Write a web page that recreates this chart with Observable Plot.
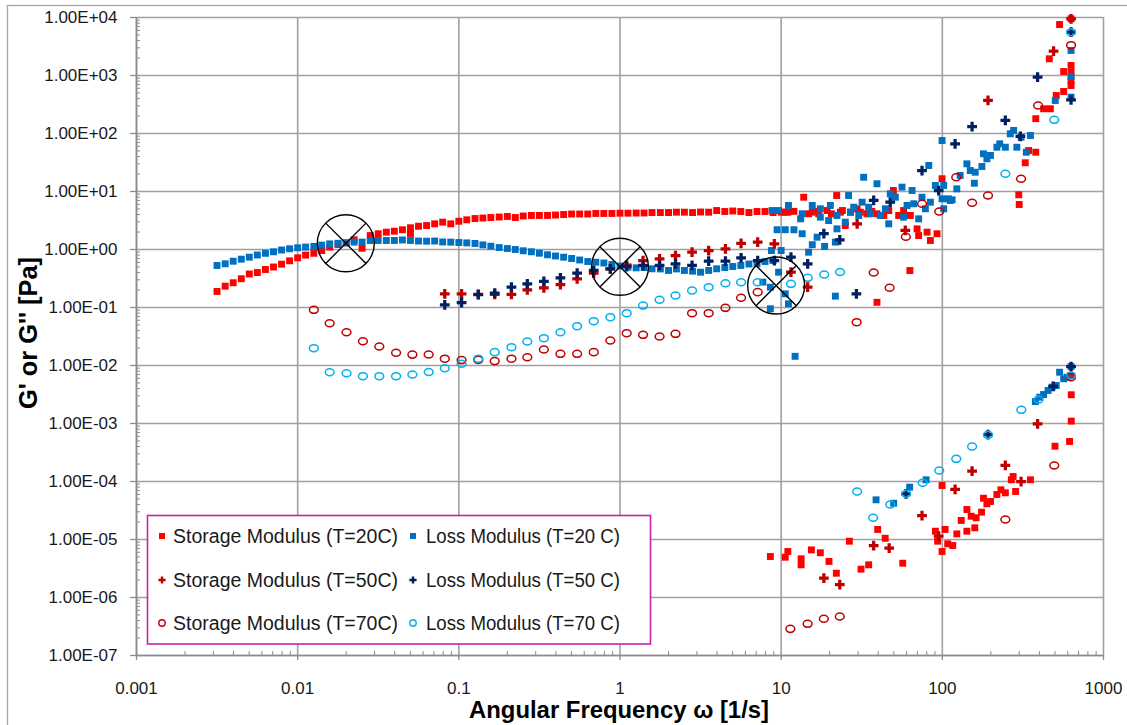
<!DOCTYPE html>
<html>
<head>
<meta charset="utf-8">
<script src="https://cdn.jsdelivr.net/npm/d3@7"></script>
<script src="https://cdn.jsdelivr.net/npm/@observablehq/plot@0.6"></script>
<style>
  html, body { margin: 0; padding: 0; background: #fff; }
  #chart svg { display: block; }
</style>
</head>
<body>
<div id="chart"></div>
<script>
// ---- Frequency grids (rad/s) ----
const freq20 = [
  0.00316, 0.00355, 0.00398, 0.00447, 0.00501, 0.00562, 0.00631, 0.00708, 0.00794, 0.00891,
  0.0100, 0.0112, 0.0126, 0.0141, 0.0158, 0.0178, 0.0200, 0.0224, 0.0251, 0.0282,
  0.0316, 0.0355, 0.0398, 0.0447, 0.0501, 0.0562, 0.0631, 0.0708, 0.0794, 0.0891,
  0.100, 0.112, 0.126, 0.141, 0.158, 0.178, 0.200, 0.224, 0.251, 0.282,
  0.316, 0.355, 0.398, 0.447, 0.501, 0.562, 0.631, 0.708, 0.794, 0.891,
  1.00, 1.12, 1.26, 1.41, 1.58, 1.78, 2.00, 2.24, 2.51, 2.82,
  3.16, 3.55, 3.98, 4.47, 5.01, 5.62, 6.31, 7.08, 7.94, 8.91,
  10.0
];
const freq50 = [
  0.0818, 0.104, 0.132, 0.167, 0.212, 0.266, 0.337, 0.427, 0.542, 0.687,
  0.871, 1.10, 1.39, 1.76, 2.21, 2.80, 3.55, 4.51, 5.64, 7.15,
  9.07, 11.5, 14.6
];
const freq70 = [
  0.0126, 0.0158, 0.0201, 0.0254, 0.0321, 0.0408, 0.0515, 0.0650, 0.0818, 0.104,
  0.132, 0.167, 0.212, 0.266, 0.337, 0.427, 0.542, 0.687, 0.871, 1.10,
  1.39, 1.76, 2.21, 2.80, 3.55, 4.51, 5.64, 7.15
];

// ---- T = 20 C (Pa) ----
const storage20 = [
  0.189, 0.233, 0.267, 0.313, 0.378, 0.401, 0.452, 0.499, 0.558, 0.638,
  0.719, 0.80, 0.86, 0.96, 1.10, 1.22, 1.30, 1.47, 1.05, 1.74,
  1.87, 1.99, 2.07, 2.19, 2.37, 2.52, 2.59, 2.77, 2.96, 2.77,
  3.07, 3.25, 3.42, 3.49, 3.56, 3.63, 3.71, 3.56, 3.78, 3.86,
  3.86, 3.86, 3.93, 4.01, 4.09, 4.09, 4.09, 4.18, 4.18, 4.18,
  4.23, 4.23, 4.26, 4.26, 4.34, 4.34, 4.34, 4.40, 4.40, 4.34,
  4.43, 4.40, 4.70, 4.52, 4.61, 4.52, 4.34, 4.52, 4.52, 4.34,
  4.40
];
const loss20 = [
  0.530, 0.567, 0.628, 0.681, 0.737, 0.804, 0.860, 0.913, 0.980, 1.03,
  1.07, 1.10, 1.13, 1.19, 1.25, 1.28, 1.30, 1.34, 1.34, 1.43,
  1.43, 1.43, 1.43, 1.46, 1.43, 1.40, 1.39, 1.40, 1.35, 1.34,
  1.32, 1.30, 1.27, 1.20, 1.14, 1.08, 1.04, 1.00, 0.95, 0.913,
  0.863, 0.811, 0.773, 0.737, 0.700, 0.659, 0.621, 0.604, 0.585, 0.551,
  0.519, 0.495, 0.483, 0.489, 0.465, 0.462, 0.435, 0.462, 0.435, 0.423,
  0.406, 0.435, 0.465, 0.489, 0.509, 0.530, 0.562, 0.567, 0.621, 0.646,
  0.96
];
// high-frequency and off-trend readings [frequency, modulus]
const storage20Extra = [
  [0.0501, 1.89], [10.6, 4.40], [11.0, 4.40], [12.0, 4.55], [13.8, 7.97], [14.8, 4.13],
  [15.6, 4.40], [16.4, 4.55], [17.1, 4.13], [19.3, 4.70], [20.5, 4.13], [22.1, 8.53],
  [23.3, 4.40], [24.0, 4.70], [25.0, 2.59], [26.9, 4.40], [29.6, 5.03], [31.0, 4.40],
  [34.1, 4.13], [36.5, 4.55], [39.3, 4.13], [43.3, 3.86], [46.5, 4.70], [49.7, 10.4],
  [53.6, 3.86], [57.5, 4.70], [63.3, 3.86], [69.7, 2.27], [71.3, 1.74], [80.4, 1.99],
  [84.3, 1.43], [92.7, 1.87], [99.6, 16.6], [62.9, 0.434], [39.3, 0.123],
  [298, 8.77], [300, 5.97], [327, 31.3], [343, 50.9], [380, 47.6], [380, 180],
  [425, 267], [468, 267], [509, 452], [566, 530], [566, 1170], [629, 672], [629, 820],
  [629, 1140], [629, 1490], [461, 1940], [534, 7570], [629, 9500],
  [8.57, 5.09e-6], [10.6, 4.95e-6], [11.0, 6.21e-6], [13.3, 4.65e-6], [13.3, 3.66e-6],
  [15.4, 6.62e-6], [17.5, 5.90e-6], [19.8, 4.18e-6], [22.0, 2.62e-6], [26.5, 9.35e-6],
  [31.3, 3.08e-6], [34.9, 3.66e-6], [39.7, 1.49e-5], [44.2, 1.05e-5], [56.8, 3.90e-6],
  [90.5, 1.39e-5], [99.6, 8.53e-5], [93.5, 9.35e-6], [99.6, 6.21e-6], [104, 1.49e-5],
  [108, 8.43e-6], [116, 7.88e-6], [123, 1.25e-5], [131, 2.13e-5], [142, 3.29e-5],
  [142, 1.39e-5], [151, 2.52e-5], [159, 1.59e-5], [162, 2.37e-5], [175, 2.96e-5],
  [180, 5.15e-5], [189, 4.13e-5], [199, 4.52e-5], [218, 5.97e-5], [231, 7.19e-5],
  [246, 6.38e-5], [268, 1.07e-4], [275, 1.22e-4], [285, 6.73e-5], [352, 1.07e-4],
  [500, 4.06e-4], [616, 4.90e-4], [631, 1.10e-3], [631, 3.13e-3], [625, 6.73e-3]
];
const loss20Extra = [
  [8.79, 4.70], [9.44, 2.19], [10.6, 2.19], [12.0, 2.19], [13.5, 1.87], [8.70, 0.96],
  [7.70, 0.274], [8.57, 0.095], [9.64, 0.406], [8.57, 0.224], [10.6, 0.172], [11.1, 0.116],
  [12.2, 0.0144], [21.7, 0.157], [14.8, 0.898], [15.6, 1.21], [16.7, 1.63], [18.6, 1.13],
  [21.7, 1.34], [22.2, 2.27], [20.2, 5.74], [17.5, 5.03], [15.6, 5.74], [13.5, 4.13],
  [13.2, 3.38], [11.1, 5.74], [9.64, 4.70], [17.5, 3.61], [19.7, 3.16], [22.2, 3.86],
  [25.0, 2.96], [26.2, 8.53], [26.9, 4.40], [28.2, 5.36], [30.3, 3.86], [31.8, 6.54],
  [32.5, 17.6], [34.9, 5.36], [35.7, 4.13], [39.3, 13.6], [41.2, 3.86], [44.3, 5.03],
  [46.5, 2.77], [47.5, 9.12], [51.1, 7.97], [56.2, 11.9], [57.5, 3.61], [60.4, 5.74],
  [64.9, 10.4], [66.4, 6.14], [71.3, 3.38], [74.8, 7.97], [78.5, 5.03], [82.4, 28.1],
  [84.3, 6.54], [90.5, 12.7], [99.6, 7.48], [102, 5.03], [112, 7.0], [99.6, 75.7],
  [102, 12.7], [109, 7.48], [115, 7.19], [123, 11.1], [129, 18.9], [142, 30.0],
  [149, 23.0], [158, 13.9], [160, 21.5], [176, 27.0], [180, 44.7], [189, 36.6],
  [199, 41.8], [218, 58.0], [227, 66.4], [246, 58.0], [264, 98.8], [277, 113],
  [290, 58.0], [308, 86.3], [332, 47.6], [352, 92.4], [502, 371], [629, 423],
  [629, 961], [629, 2700],
  [38.8, 4.83e-5], [49.9, 4.22e-5], [62.7, 7.98e-5], [79.3, 1.07e-4], [378, 2.39e-3],
  [402, 2.84e-3], [425, 3.16e-3], [453, 3.71e-3], [480, 4.23e-3], [509, 4.52e-3],
  [534, 7.66e-3], [566, 5.90e-3], [594, 6.28e-3], [629, 9.61e-3]
];

// ---- T = 50 C (Pa) ----
const storage50 = [
  0.172, 0.172, 0.168, 0.168, 0.168, 0.202, 0.219, 0.249, 0.313, 0.390,
  0.465, 0.54, 0.646, 0.691, 0.788, 0.898, 0.96, 1.03, 1.28, 1.34,
  1.25, 0.406, 0.224
];
const loss50 = [
  0.111, 0.121, 0.166, 0.177, 0.224, 0.256, 0.281, 0.325, 0.390, 0.435,
  0.465, 0.509, 0.530, 0.530, 0.567, 0.530, 0.628, 0.628, 0.719, 0.646,
  0.646, 0.737, 0.567
];
const storage50Extra = [
  [29.6, 2.77], [58.9, 2.13], [192, 371], [490, 2620], [629, 9500],
  [18.4, 2.15e-6], [23.1, 1.66e-6], [37.5, 7.88e-6], [46.8, 7.08e-6], [74.8, 2.59e-5],
  [94.9, 1.14e-5], [120, 7.28e-5], [153, 1.51e-4], [246, 1.89e-4], [308, 1.0e-4],
  [390, 9.87e-4]
];
const loss50Extra = [
  [18.4, 1.87], [23.1, 1.47], [29.3, 0.172], [37.5, 7.0], [47.5, 6.54], [74.8, 23.0],
  [94.9, 10.4], [120, 66.4], [153, 132], [246, 168], [305, 88.8], [390, 935],
  [629, 381], [629, 5580],
  [59.5, 6.14e-5], [192, 6.46e-4], [487, 4.35e-3], [629, 9.61e-3]
];

// ---- T = 70 C (Pa) ----
const storage70 = [
  0.0912, 0.0536, 0.0375, 0.0262, 0.0213, 0.0166, 0.0154, 0.0155, 0.0131, 0.0124,
  0.0125, 0.0119, 0.0131, 0.0139, 0.0189, 0.0159, 0.0159, 0.0170, 0.0270, 0.0361,
  0.0338, 0.0316, 0.0352, 0.0798, 0.0798, 0.0988, 0.147, 0.184
];
const loss70 = [
  0.0199, 0.00766, 0.00736, 0.00654, 0.00654, 0.00654, 0.00700, 0.00773, 0.00897, 0.0107,
  0.0131, 0.0170, 0.0207, 0.0259, 0.0296, 0.0375, 0.0476, 0.0581, 0.0681, 0.0798,
  0.108, 0.136, 0.161, 0.196, 0.224, 0.262, 0.273, 0.273
];
const storage70Extra = [
  [29.4, 0.0558], [37.5, 0.401], [47.1, 0.219], [59.4, 1.66], [74.8, 6.14], [95.7, 4.52],
  [122, 17.6], [153, 6.39], [192, 8.53], [308, 16.6], [393, 304], [629, 3330],
  [11.4, 2.88e-7], [14.6, 3.52e-7], [18.4, 4.30e-7], [23.1, 4.70e-7], [246, 2.21e-5],
  [495, 1.89e-4], [629, 6.28e-3]
];
const loss70Extra = [
  [11.5, 0.256], [14.6, 0.325], [18.5, 0.371], [23.2, 0.409], [246, 20.2], [495, 172],
  [629, 5580],
  [29.6, 6.73e-5], [37.2, 2.37e-5], [47.5, 4.01e-5], [59.6, 6.14e-5], [75.5, 9.50e-5],
  [95.7, 1.55e-4], [122, 2.46e-4], [153, 4.01e-4], [192, 6.38e-4], [309, 1.72e-3],
  [395, 2.59e-3], [629, 6.73e-3]
];

// G' = G'' crossover points marked on the curves
const crossovers = [[0.0199, 1.28], [1.0, 0.503], [9.31, 0.239]];

// ---- Axis ticks and legend entries ----
const xTickValues = [0.001, 0.01, 0.1, 1, 10, 100, 1000];
const xTickLabels = ["0.001", "0.01", "0.1", "1", "10", "100", "1000"];
const yTickValues = [1e-7, 1e-6, 1e-5, 1e-4, 1e-3, 1e-2, 1e-1, 1e0, 1e1, 1e2, 1e3, 1e4];
const yTickLabels = ["1.00E-07", "1.00E-06", "1.00E-05", "1.00E-04", "1.00E-03", "1.00E-02",
                     "1.00E-01", "1.00E+00", "1.00E+01", "1.00E+02", "1.00E+03", "1.00E+04"];
const legendLabels = [
  "Storage Modulus (T=20C)", "Loss Modulus (T=20 C)",
  "Storage Modulus (T=50C)", "Loss Modulus (T=50 C)",
  "Storage Modulus (T=70C)", "Loss Modulus (T=70 C)"
];

// ---- helpers ----
const pairs = (f, v) => f.map((x, i) => [x, v[i]]);
const minorTicks = (values) => {
  const out = [];
  for (let i = 0; i < values.length - 1; i++)
    for (let m = 2; m <= 9; m++) out.push(values[i] * m);
  return out;
};

// ellipse marker (slightly wider than tall)
const ellipse = {
  draw(ctx, size) {
    const r = Math.sqrt(size / Math.PI), rx = r * 1.1, ry = r * 0.88, k = 0.5523;
    ctx.moveTo(rx, 0);
    ctx.bezierCurveTo(rx, ry * k, rx * k, ry, 0, ry);
    ctx.bezierCurveTo(-rx * k, ry, -rx, ry * k, -rx, 0);
    ctx.bezierCurveTo(-rx, -ry * k, -rx * k, -ry, 0, -ry);
    ctx.bezierCurveTo(rx * k, -ry, rx, -ry * k, rx, 0);
    ctx.closePath();
  }
};
// circle with an X through it
const crossedCircle = {
  draw(ctx, size) {
    const r = Math.sqrt(size / Math.PI), d = r * Math.SQRT1_2;
    ctx.moveTo(r, 0);
    ctx.arc(0, 0, r, 0, 2 * Math.PI);
    ctx.moveTo(-d, -d); ctx.lineTo(d, d);
    ctx.moveTo(d, -d); ctx.lineTo(-d, d);
  }
};

const RED = "#ff0000", BLUE = "#0070c0", DARKRED = "#c00000", NAVY = "#002060", CYAN = "#00b0f0";
const GRID = "#a0a0a0", AXIS = "#8c8c8c";
const xy = {x: d => d[0], y: d => d[1]};

const chart = Plot.plot({
  width: 1127,
  height: 725,
  marginLeft: 136,
  marginRight: 24,
  marginTop: 17,
  marginBottom: 70,
  x: {type: "log", domain: [0.001, 1000]},
  y: {type: "log", domain: [1e-7, 1e4]},
  style: {fontFamily: "'Liberation Sans', Arial, sans-serif", fontSize: "17px", color: "#1a1a1a", background: "#fff", overflow: "visible"},
  marks: [
    Plot.gridX(xTickValues, {stroke: GRID, strokeOpacity: 1, strokeWidth: 1.6}),
    Plot.gridY(yTickValues, {stroke: GRID, strokeOpacity: 1, strokeWidth: 1.6}),
    Plot.axisX(minorTicks(xTickValues), {tickSize: -4, tickFormat: () => "", stroke: AXIS, label: null}),
    Plot.axisY(minorTicks(yTickValues), {tickSize: -4, tickFormat: () => "", stroke: AXIS, label: null}),
    Plot.axisX(xTickValues, {tickSize: 5, tickPadding: 21, stroke: AXIS, strokeWidth: 1.3,
      tickFormat: d => xTickLabels[xTickValues.indexOf(d)], label: null}),
    Plot.axisY(yTickValues, {tickSize: 6, tickPadding: 13, stroke: AXIS, strokeWidth: 1.3,
      tickFormat: d => yTickLabels[yTickValues.indexOf(d)], label: null}),
    Plot.ruleX([0.001], {stroke: AXIS, strokeWidth: 1.6}),
    Plot.ruleY([1e-7], {stroke: AXIS, strokeWidth: 1.6}),

    // T = 20 C
    Plot.dot(pairs(freq20, storage20).concat(storage20Extra), {...xy, symbol: "square", r: 3.9, fill: RED}),
    Plot.dot(pairs(freq20, loss20).concat(loss20Extra), {...xy, symbol: "square", r: 3.9, fill: BLUE}),
    // T = 50 C
    Plot.dot(pairs(freq50, storage50).concat(storage50Extra), {...xy, symbol: "cross", r: 4.1, fill: DARKRED}),
    Plot.dot(pairs(freq50, loss50).concat(loss50Extra), {...xy, symbol: "cross", r: 4.1, fill: NAVY}),
    // T = 70 C
    Plot.dot(pairs(freq70, storage70).concat(storage70Extra), {...xy, symbol: ellipse, r: 4, fill: "none", stroke: DARKRED, strokeWidth: 1.5}),
    Plot.dot(pairs(freq70, loss70).concat(loss70Extra), {...xy, symbol: ellipse, r: 4, fill: "none", stroke: CYAN, strokeWidth: 1.5}),

    // crossover markers
    Plot.dot(crossovers, {...xy, symbol: crossedCircle, r: 28.5, fill: "none", stroke: "#000", strokeWidth: 1.4})
  ]
});

document.getElementById("chart").appendChild(chart);

// ---- titles, legend and outer border drawn into the same SVG ----
const svg = d3.select(chart);

svg.append("rect")
  .attr("x", 7.5).attr("y", 5.5).attr("width", 1140).attr("height", 740)
  .attr("fill", "none").attr("stroke", "#a6a6a6").attr("stroke-width", 1.3);

svg.append("text")
  .attr("x", 619).attr("y", 718)
  .attr("text-anchor", "middle")
  .attr("font-family", "'Liberation Sans Narrow', 'Liberation Sans', Arial, sans-serif")
  .attr("font-weight", "bold").attr("font-size", 24)
  .attr("textLength", 300).attr("lengthAdjust", "spacingAndGlyphs")
  .attr("fill", "#000")
  .text("Angular Frequency ω [1/s]");

svg.append("text")
  .attr("transform", "translate(37,333) rotate(-90)")
  .attr("text-anchor", "middle")
  .attr("font-family", "'Liberation Sans Narrow', 'Liberation Sans', Arial, sans-serif")
  .attr("font-weight", "bold").attr("font-size", 25)
  .attr("textLength", 152).attr("lengthAdjust", "spacingAndGlyphs")
  .attr("fill", "#000")
  .text("G' or G'' [Pa]");

const legend = svg.append("g").attr("text-anchor", "start");
legend.append("rect")
  .attr("x", 147.5).attr("y", 515.5).attr("width", 503).attr("height", 128.5)
  .attr("fill", "#fff").attr("stroke", "#cc22a8").attr("stroke-width", 1.6);

const rowsY = [536, 580, 623];
const colMarkX = [162, 413], colTextX = [173, 426], colTextLen = [225, 194];
const legendMarks = [
  {sym: "square", fill: RED}, {sym: "square", fill: BLUE},
  {sym: "plus", fill: DARKRED}, {sym: "plus", fill: NAVY},
  {sym: "ring", stroke: DARKRED}, {sym: "ring", stroke: CYAN}
];
legendLabels.forEach((label, i) => {
  const row = Math.floor(i / 2), col = i % 2;
  const cx = colMarkX[col], cy = rowsY[row], m = legendMarks[i];
  if (m.sym === "square") {
    legend.append("rect").attr("x", cx - 3).attr("y", cy - 3).attr("width", 6).attr("height", 6).attr("fill", m.fill);
  } else if (m.sym === "plus") {
    legend.append("path")
      .attr("d", `M${cx - 3.6},${cy}H${cx + 3.6}M${cx},${cy - 3.6}V${cy + 3.6}`)
      .attr("stroke", m.fill).attr("stroke-width", 2.4);
  } else {
    legend.append("circle").attr("cx", cx).attr("cy", cy).attr("r", 3.2)
      .attr("fill", "none").attr("stroke", m.stroke).attr("stroke-width", 1.4);
  }
  legend.append("text")
    .attr("x", colTextX[col]).attr("y", cy + 7)
    .attr("text-anchor", "start")
    .attr("font-family", "'Liberation Sans', Arial, sans-serif")
    .attr("font-size", 19.5)
    .attr("textLength", colTextLen[col]).attr("lengthAdjust", "spacingAndGlyphs")
    .attr("fill", "#1a1a1a")
    .text(label);
});
</script>
</body>
</html>
